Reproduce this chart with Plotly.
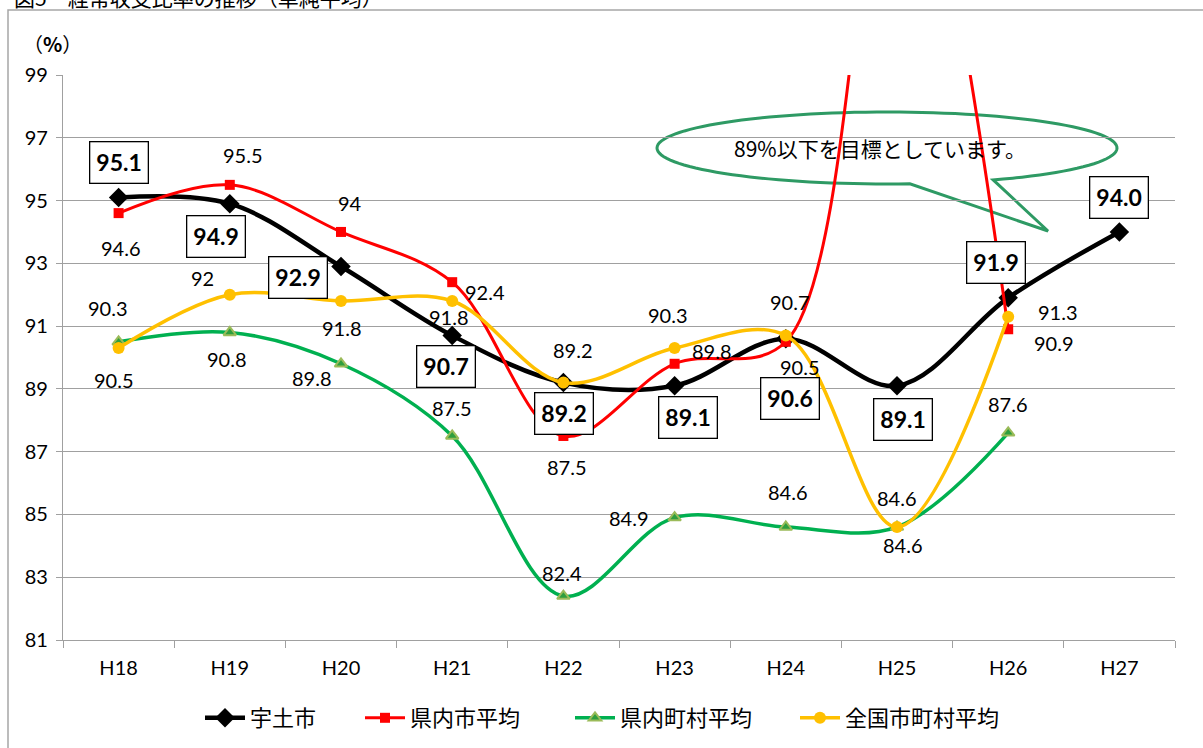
import math
import plotly.graph_objects as go

# ---------------- data ----------------
categories = ["H18", "H19", "H20", "H21", "H22", "H23", "H24", "H25", "H26", "H27"]
uto_city = [95.1, 94.9, 92.9, 90.7, 89.2, 89.1, 90.6, 89.1, 91.9, 94.0]
pref_city_avg = [94.6, 95.5, 94.0, 92.4, 87.5, 89.8, 90.5, 108.0, 90.9, None]
pref_town_avg = [90.5, 90.8, 89.8, 87.5, 82.4, 84.9, 84.6, 84.6, 87.6, None]
national_avg = [90.3, 92.0, 91.8, 91.8, 89.2, 90.3, 90.7, 84.6, 91.3, None]

series_names = ["宇土市", "県内市平均", "県内町村平均", "全国市町村平均"]
y_ticks = [81, 83, 85, 87, 89, 91, 93, 95, 97, 99]
red_label_shown = [True, True, True, True, True, True, True, False, True, False]

# ---------------- label offsets (px) ----------------
black_off = [(0, 35), (-14, -33), (-43, -11), (-6, -31), (1, -31), (13, -32), (4, -60), (6, -34), (-12, 35), (0, 34)]
red_off = [(2, -35), (13, 30), (9, 29), (33, -10), (4, -31), (37, 13), (14, -25), (0, 0), (46, -14), (0, 0)]
green_off = [(-5, -38), (-3, -27), (-29, -14), (0, 28), (-1, 23), (-46, 0), (2, 35), (6, -18), (0, 29), (0, 0)]
yellow_off = [(-11, 40), (-27, 17), (1, -27), (-3, -16), (10, 33), (-7, 33), (4, 34), (0, 29), (50, 5), (0, 0)]

FONT = "Lato, 'Noto Sans CJK JP', sans-serif"
CJK = "'Noto Sans CJK JP', sans-serif"

# plot area in pixels
L, R, T, B = 63, 1175, 75, 640
W_, H_ = R - L, B - T


def px(x):
    return (x - L) / W_


def py(y):
    return (B - y) / H_


fig = go.Figure()

fig.add_trace(go.Scatter(
    x=categories, y=uto_city, name=series_names[0], mode="lines+markers", legend="legend",
    line=dict(color="#000000", width=4.5, shape="spline", smoothing=1.0),
    marker=dict(symbol="diamond", size=15, color="#000000"),
))
fig.add_trace(go.Scatter(
    x=categories, y=pref_city_avg, name=series_names[1], mode="lines+markers", legend="legend2",
    line=dict(color="#FF0000", width=3, shape="spline", smoothing=1.0),
    marker=dict(symbol="square", size=10, color="#FF0000"),
    cliponaxis=True,
))
fig.add_trace(go.Scatter(
    x=categories, y=pref_town_avg, name=series_names[2], mode="lines+markers", legend="legend3",
    line=dict(color="#00B050", width=3.5, shape="spline", smoothing=1.0),
    marker=dict(symbol="triangle-up", size=11, color="#2E9E3E",
                line=dict(color="#9BBB59", width=2)),
))
fig.add_trace(go.Scatter(
    x=categories, y=national_avg, name=series_names[3], mode="lines+markers", legend="legend4",
    line=dict(color="#FFC000", width=3.5, shape="spline", smoothing=1.0),
    marker=dict(symbol="circle", size=12, color="#FFC000"),
))

annotations = []


def fmt(v):
    return "%.1f" % v


def fmt_plain(v):
    return "%g" % v


for i, c in enumerate(categories):
    v = uto_city[i]
    dx, dy = black_off[i]
    annotations.append(dict(
        x=c, y=v, xref="x", yref="y", text="<b>%s</b>" % fmt(v), showarrow=False,
        xshift=dx, yshift=dy, font=dict(size=23, color="#000000", family=FONT),
        bgcolor="#FFFFFF", bordercolor="#000000", borderwidth=1.3, borderpad=6,
    ))
    for vals, offs, show in ((pref_city_avg, red_off, red_label_shown[i]),
                             (pref_town_avg, green_off, True),
                             (national_avg, yellow_off, True)):
        vv = vals[i]
        if vv is None or not show:
            continue
        dx, dy = offs[i]
        annotations.append(dict(
            x=c, y=vv, xref="x", yref="y", text=fmt_plain(vv), showarrow=False,
            xshift=dx, yshift=dy, font=dict(size=20, color="#000000", family=FONT),
        ))

# (%) label
annotations.append(dict(x=px(52), y=py(44), xref="paper", yref="paper", xanchor="center", yanchor="middle",
                        text="（<b>%</b>）", showarrow=False,
                        font=dict(size=20, color="#000000", family=CJK)))
# title (cut off at top, as in the original)
annotations.append(dict(x=px(12), y=py(-3), xref="paper", yref="paper", xanchor="left", yanchor="middle",
                        text="図5　経常収支比率の推移（単純平均）", showarrow=False,
                        font=dict(size=21, color="#000000", family=CJK)))
# callout text
annotations.append(dict(x=px(880), y=py(148), xref="paper", yref="paper", xanchor="center", yanchor="middle",
                        text="89%以下を目標としています。", showarrow=False,
                        font=dict(size=21, color="#000000", family=CJK)))

# callout shape (ellipse with tail)
cx, cy, rx, ry = 887, 148, 230, 36
thA = math.radians(84.3)
thB = math.radians(62.5 + 360)
pts = []
n = 120
for k in range(n + 1):
    th = thA + (thB - thA) * k / n
    pts.append((cx + rx * math.cos(th), cy + ry * math.sin(th)))
pts.append((1048, 231))
path = "M " + " L ".join("%.5f,%.5f" % (px(x), py(y)) for x, y in pts) + " Z"

shapes = [
    dict(type="path", path=path, xref="paper", yref="paper",
         line=dict(color="#2E9A64", width=3), fillcolor="rgba(255,255,255,0.92)", layer="between"),
    dict(type="rect", xref="paper", yref="paper", x0=px(8), x1=px(1230), y0=py(770), y1=py(10),
         line=dict(color="#A6A6A6", width=1.5), fillcolor="rgba(0,0,0,0)", layer="below"),
]


def leg(xpix):
    return dict(orientation="h", x=px(xpix), xanchor="left", y=py(718), yanchor="middle",
                font=dict(size=22, family=CJK), itemwidth=40, bgcolor="rgba(0,0,0,0)")


fig.update_layout(
    width=1203, height=748,
    margin=dict(l=L, r=1203 - R, t=T, b=748 - B, autoexpand=False),
    paper_bgcolor="#FFFFFF", plot_bgcolor="#FFFFFF",
    font=dict(family=FONT, size=18, color="#000000"),
    showlegend=True,
    legend=leg(200), legend2=leg(360), legend3=leg(570), legend4=leg(795),
    annotations=annotations,
    shapes=shapes,
)
fig.update_xaxes(
    type="category", categoryorder="array", categoryarray=categories,
    tickson="boundaries", ticks="outside", ticklen=7, tickcolor="#A0A0A0", tickwidth=1.3,
    showline=True, linecolor="#A0A0A0", linewidth=1.3, showgrid=False,
    tickfont=dict(size=20, family=FONT), ticklabelstandoff=10,
    range=[-0.5, 9.5], fixedrange=True,
)
fig.update_yaxes(
    range=[81, 99], tickvals=y_ticks, ticktext=[str(t) for t in y_ticks],
    ticks="outside", ticklen=6, tickcolor="#A0A0A0", tickwidth=1.3,
    showline=True, linecolor="#A0A0A0", linewidth=1.3,
    showgrid=True, gridcolor="#A0A0A0", gridwidth=1.3, zeroline=False,
    tickfont=dict(size=20, family=FONT), ticklabelstandoff=4,
)

fig.write_html("out.html", config={"displayModeBar": False},
               post_script="document.body.style.margin='0px';")
